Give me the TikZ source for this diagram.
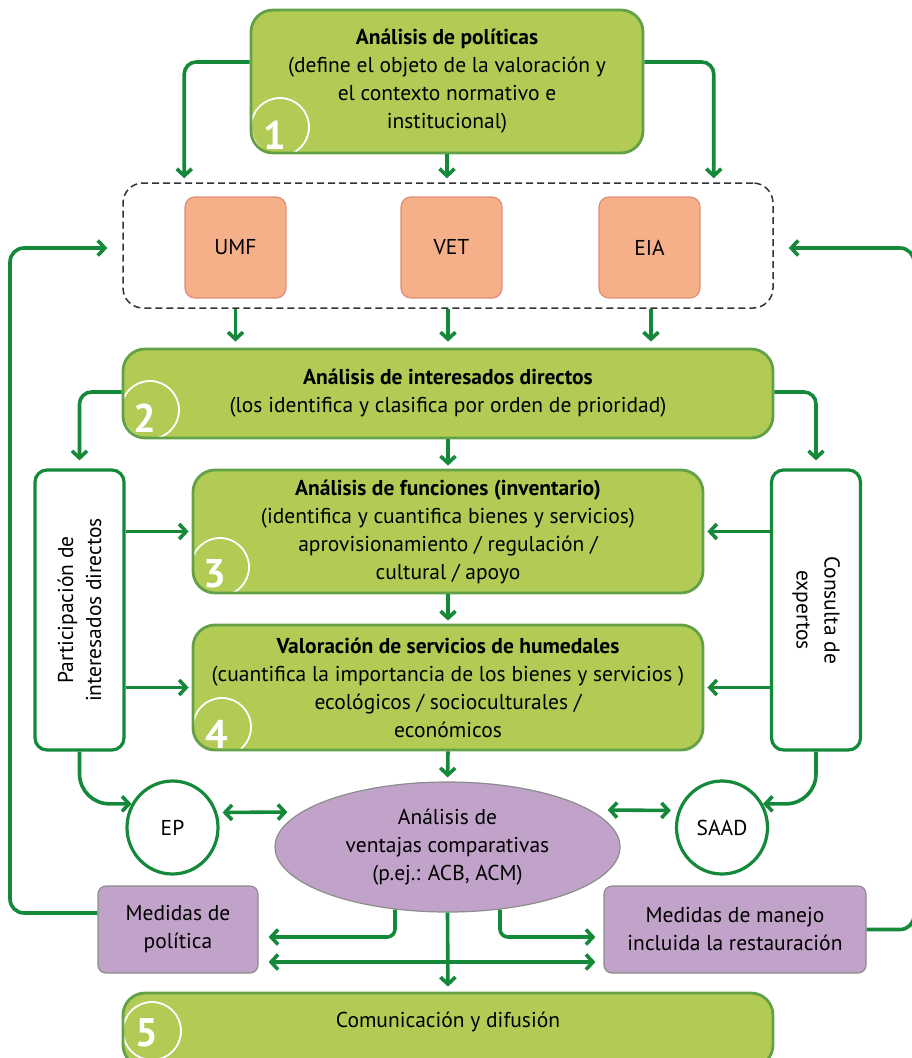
\documentclass[tikz,border=0pt]{standalone}
\usepackage{fontspec}
\setmainfont{PT Sans}
\usetikzlibrary{arrows.meta,calc,shapes.geometric}
\definecolor{bfill}{HTML}{B1CB55}
\definecolor{bline}{HTML}{63A146}
\definecolor{cg}{HTML}{15893A}
\definecolor{sal}{HTML}{F5B08A}
\definecolor{salb}{HTML}{DF8E78}
\definecolor{pur}{HTML}{C1A3CA}
\definecolor{purb}{HTML}{8C8C8C}
\begin{document}
\begin{tikzpicture}[x=1pt,y=-1pt,
  font=\fontsize{21.5}{28}\selectfont,
  gbox/.style={draw=bline, fill=bfill, line width=2.8pt, rounded corners=22pt, inner sep=0pt, align=center},
  num/.style n args={4}{path picture={
     \draw[white,line width=1.8pt] ($(path picture bounding box.north west)+(#1,#2)$) circle (29);
     \node[white,font=\bfseries\fontsize{40}{40}\selectfont,inner sep=0pt] at ($(path picture bounding box.north west)+(#1,#2)+(-5,#4)$) {#3};}},
  sbox/.style={draw=salb, fill=sal, line width=1.2pt, rounded corners=10pt, minimum width=101pt, minimum height=101pt, inner sep=0pt},
  pbox/.style={draw=purb, fill=pur, line width=1.2pt, rounded corners=8pt, minimum height=87pt, inner sep=0pt, align=center},
  tbox/.style={draw=cg, fill=white, line width=3.2pt, rounded corners=12pt, minimum width=89pt, minimum height=280pt, inner sep=0pt},
  cbox/.style={draw=cg, fill=white, line width=3.2pt, ellipse, minimum width=91pt, minimum height=93pt, inner sep=0pt},
  tip/.tip={Straight Barb[length=7pt,width=15pt]},
  conn/.style={draw=cg, line width=3.6pt, rounded corners=12pt, -tip},
  dconn/.style={draw=cg, line width=3.6pt, tip-tip},
  fb/.style={draw=cg, line width=3.6pt, rounded corners=14pt}
]
\useasboundingbox (0,0) rectangle (911,1058);

% boxes
\node[gbox, minimum width=392pt, minimum height=143pt, num={29}{117}{1}{8}] (b1) at (447,81.5)
  {\textbf{Análisis de políticas}\\(define el objeto de la valoración y\\el contexto normativo e\\institucional)};
\node[draw=black!80, dash pattern=on 7pt off 4pt, line width=1.5pt, rounded corners=20pt, minimum width=650pt, minimum height=125pt] (dash) at (448,245.5) {};
\node[sbox] (umf) at (235.5,247.5) {UMF};
\node[sbox] (vet) at (451.5,247.5) {VET};
\node[sbox] (eia) at (649.5,247.5) {EIA};
\node[gbox, minimum width=650pt, minimum height=89pt, num={27}{61}{2}{8}] (b2) at (448,393.5)
  {\textbf{Análisis de interesados directos}\\(los identifica y clasifica por orden de prioridad)};
\node[gbox, minimum width=510pt, minimum height=123pt, num={27}{97}{3}{7}] (b3) at (448,531.5)
  {\textbf{Análisis de funciones (inventario)}\\(identifica y cuantifica bienes y servicios)\\aprovisionamiento / regulación /\\cultural / apoyo};
\node[gbox, minimum width=510pt, minimum height=125pt, num={29}{102}{4}{7}] (b4) at (448,687.5)
  {\textbf{Valoración de servicios de humedales}\\(cuantifica la importancia de los bienes y servicios )\\ecológicos / socioculturales /\\económicos};
\node[tbox] (lt) at (79.5,610) {};
\node[rotate=90, align=center] (ltt) at (lt) {Participación de\\interesados directos};
\node[tbox] (rt) at (816,610) {};
\node[rotate=-90, align=center] (rtt) at (rt) {Consulta de\\expertos};
\node[ellipse, draw=purb, fill=pur, line width=1.2pt, minimum width=345pt, minimum height=130pt, inner sep=0pt, align=center] (ell) at (447.5,847)
  {Análisis de\\ventajas comparativas\\(p.ej.: ACB, ACM)};
\node[cbox] (ep) at (172.5,827.5) {EP};
\node[cbox] (saad) at (722,827.5) {SAAD};
\node[pbox, minimum width=160pt] (mp) at (178,929.5) {Medidas de\\política};
\node[pbox, minimum width=262pt] (mm) at (735,929.5) {Medidas de manejo\\incluida la restauración};
\node[gbox, minimum width=650pt, minimum height=74pt, num={29}{38}{5}{2}] (b5) at (448,1030) {};
\node (b5t) at (448,1022) {Comunicación y difusión};

% coordinates
\coordinate (lfb) at (10,600);
\coordinate (rfb) at (914,600);

% connectors from b1
\draw[conn, shorten >=4pt] ([yshift=19.5pt]b1.west) -| ($(dash.north west)+(62,0)$);
\draw[conn, shorten >=4pt] ([yshift=19.5pt]b1.east) -| ($(dash.north east)+(-60,0)$);
\draw[conn, shorten >=4pt] (b1.south) -- (b1.south |- dash.north);
% below dashed
\draw[conn, shorten >=6pt] (umf.south |- dash.south) -- (umf.south |- b2.north);
\draw[conn, shorten >=6pt] (b2.north |- dash.south) -- (b2.north);
\draw[conn, shorten >=6pt] ($(eia.south |- dash.south)+(1.5,0)$) -- ($(eia.south |- b2.north)+(1.5,0)$);
% from b2
\draw[conn, shorten >=8pt] ([yshift=1.5pt]b2.west) -| (lt.north);
\draw[conn, shorten >=8pt] ([yshift=1.5pt]b2.east) -| (rt.north);
\draw[conn, shorten >=3pt] (b2.south) -- (b3.north);
\draw[conn, shorten >=3pt] (b3.south) -- (b4.north);
\draw[conn, shorten >=4pt] (b4.south) -- (ell.north);
% side boxes to b3/b4
\draw[conn, shorten >=3pt] (lt.east |- b3.west) -- (b3.west);
\draw[conn, shorten >=3pt] (lt.east |- b4.west) -- (b4.west);
\draw[conn, shorten >=3pt] (rt.west |- b3.east) -- (b3.east);
\draw[conn, shorten >=3pt] (rt.west |- b4.east) -- (b4.east);
% to EP / SAAD
\draw[conn, rounded corners=30pt] (lt.south) |- (ep.150);
\draw[conn, rounded corners=30pt] (rt.south) |- (saad.30);
\draw[dconn] ([xshift=3pt,yshift=15pt]ep.east) -- ([xshift=13pt,yshift=35pt]ell.west);
\draw[dconn] ([xshift=-13pt,yshift=37pt]ell.east) -- ([xshift=-4pt,yshift=17pt]saad.west);
% from ellipse
\draw[conn, rounded corners=8pt] (ell.230) |- ([xshift=10pt,yshift=-7.5pt]mp.east);
\draw[conn, rounded corners=8pt] (ell.310) |- ([xshift=-8pt,yshift=-7.5pt]mm.west);
\draw[dconn] ([xshift=10pt,yshift=-32.5pt]mp.east) -- ([xshift=-8pt,yshift=-32.5pt]mm.west);
\draw[conn, shorten >=5pt] (ell.south) -- (b5.north);
% feedback loops
\draw[fb, -tip] ([yshift=16.5pt]mp.west) -| (lfb) |- ([xshift=-15pt,yshift=-2.5pt]dash.west);
\draw[fb, -tip] (mm.east) -| (rfb) |- ([xshift=15pt,yshift=-2.5pt]dash.east);
\end{tikzpicture}
\end{document}
